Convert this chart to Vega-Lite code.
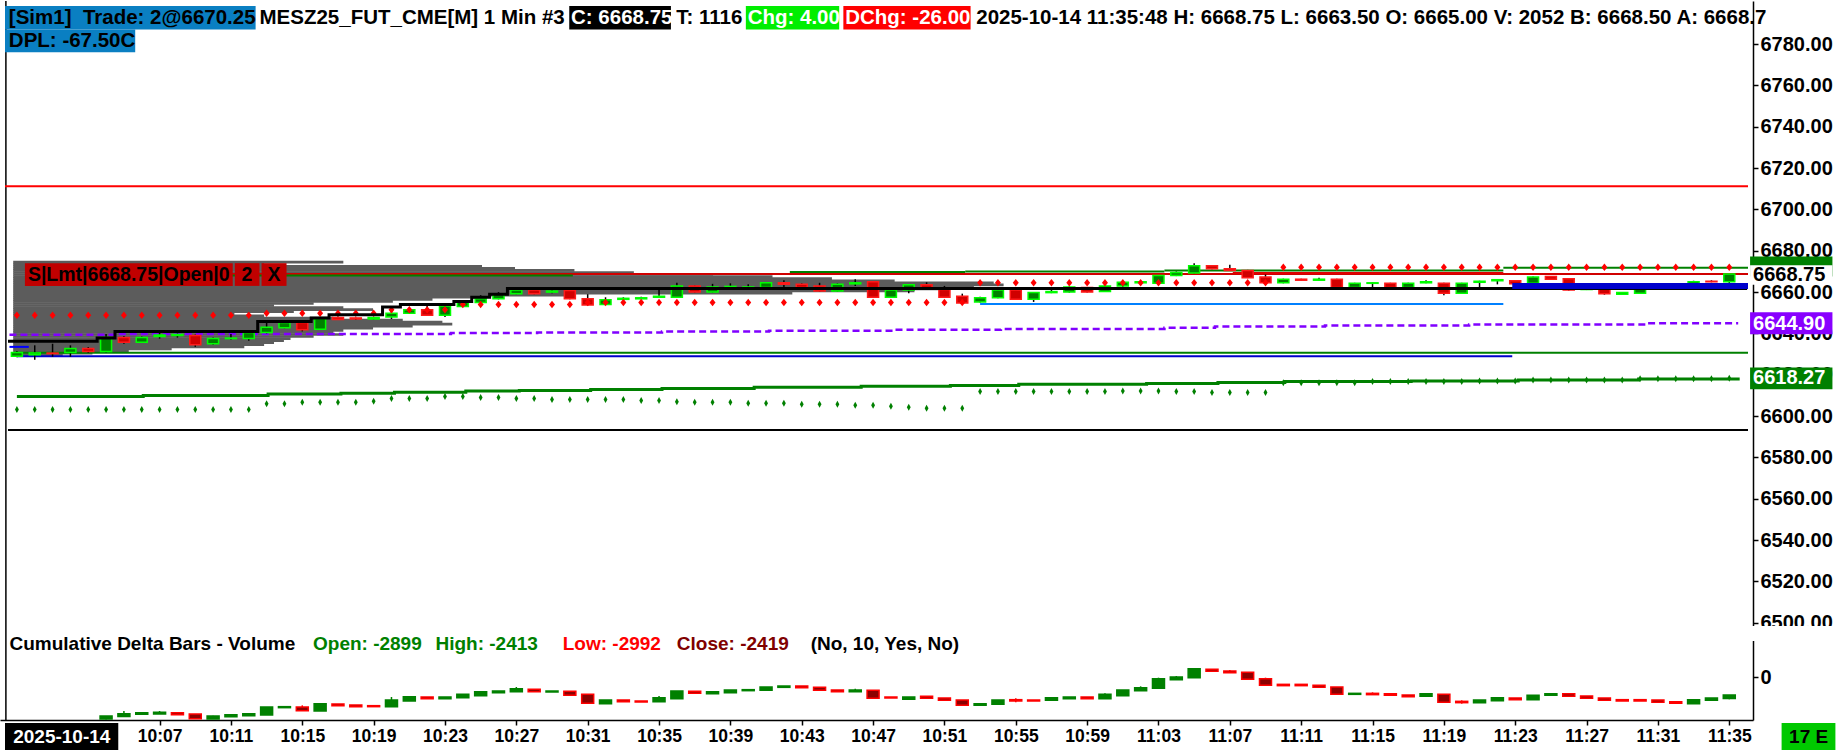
{
"$schema": "https://vega.github.io/schema/vega-lite/v6.json",
"padding": 0,
"spacing": 0,
"bounds": "flush",
"background": "white",
"config": {
  "view": {"stroke": null},
  "axis": {"grid": false, "domainColor": "#000000", "tickColor": "#000000", "labelColor": "#000000"},
  "text": {"font": "Liberation Sans", "fontWeight": "bold"}
},
"datasets": {
"candles": [
{"time":"2025-10-14T09:59:00","o":6629.0,"h":6631.5,"l":6628.5,"c":6630.75,"ub":6648.75,"lb":6603.25},
{"time":"2025-10-14T10:00:00","o":6629.75,"h":6634.25,"l":6627.25,"c":6630.5,"ub":6648.75,"lb":6603.25},
{"time":"2025-10-14T10:01:00","o":6630.5,"h":6635.0,"l":6628.75,"c":6630.25,"ub":6648.75,"lb":6603.25},
{"time":"2025-10-14T10:02:00","o":6630.75,"h":6634.25,"l":6628.75,"c":6632.75,"ub":6648.75,"lb":6603.25},
{"time":"2025-10-14T10:03:00","o":6632.75,"h":6633.5,"l":6630.5,"c":6631.25,"ub":6648.75,"lb":6603.25},
{"time":"2025-10-14T10:04:00","o":6631.25,"h":6639.75,"l":6630.75,"c":6638.0,"ub":6648.75,"lb":6603.25},
{"time":"2025-10-14T10:05:00","o":6638.0,"h":6638.75,"l":6635.0,"c":6635.75,"ub":6648.75,"lb":6603.25},
{"time":"2025-10-14T10:06:00","o":6635.75,"h":6638.5,"l":6635.5,"c":6638.0,"ub":6648.75,"lb":6603.25},
{"time":"2025-10-14T10:07:00","o":6638.5,"h":6641.25,"l":6637.5,"c":6639.25,"ub":6648.75,"lb":6603.25},
{"time":"2025-10-14T10:08:00","o":6639.0,"h":6640.0,"l":6638.0,"c":6639.5,"ub":6648.75,"lb":6603.25},
{"time":"2025-10-14T10:09:00","o":6639.0,"h":6639.5,"l":6633.5,"c":6634.5,"ub":6648.75,"lb":6603.25},
{"time":"2025-10-14T10:10:00","o":6635.0,"h":6638.0,"l":6634.5,"c":6637.5,"ub":6648.75,"lb":6603.25},
{"time":"2025-10-14T10:11:00","o":6637.5,"h":6639.75,"l":6637.0,"c":6637.75,"ub":6648.75,"lb":6603.25},
{"time":"2025-10-14T10:12:00","o":6637.5,"h":6641.0,"l":6636.5,"c":6640.5,"ub":6648.75,"lb":6603.25},
{"time":"2025-10-14T10:13:00","o":6640.5,"h":6645.75,"l":6640.0,"c":6643.0,"ub":6649.75,"lb":6606.0},
{"time":"2025-10-14T10:14:00","o":6642.75,"h":6645.75,"l":6642.5,"c":6645.25,"ub":6649.75,"lb":6606.0},
{"time":"2025-10-14T10:15:00","o":6645.25,"h":6646.0,"l":6641.0,"c":6641.75,"ub":6649.75,"lb":6606.75},
{"time":"2025-10-14T10:16:00","o":6642.0,"h":6648.0,"l":6641.75,"c":6647.25,"ub":6649.75,"lb":6606.75},
{"time":"2025-10-14T10:17:00","o":6647.75,"h":6648.25,"l":6646.5,"c":6646.75,"ub":6649.75,"lb":6606.75},
{"time":"2025-10-14T10:18:00","o":6647.5,"h":6647.75,"l":6646.5,"c":6647.0,"ub":6649.75,"lb":6606.75},
{"time":"2025-10-14T10:19:00","o":6647.0,"h":6648.0,"l":6646.75,"c":6647.75,"ub":6649.75,"lb":6607.25},
{"time":"2025-10-14T10:20:00","o":6648.0,"h":6651.25,"l":6647.0,"c":6649.75,"ub":6651.5,"lb":6608.5},
{"time":"2025-10-14T10:21:00","o":6649.75,"h":6652.0,"l":6649.5,"c":6651.5,"ub":6651.5,"lb":6608.5},
{"time":"2025-10-14T10:22:00","o":6651.5,"h":6653.5,"l":6648.5,"c":6648.75,"ub":6651.5,"lb":6608.5},
{"time":"2025-10-14T10:23:00","o":6648.75,"h":6653.75,"l":6648.0,"c":6653.25,"ub":6651.5,"lb":6609.5},
{"time":"2025-10-14T10:24:00","o":6653.0,"h":6655.75,"l":6652.75,"c":6655.25,"ub":6654.0,"lb":6609.5},
{"time":"2025-10-14T10:25:00","o":6655.0,"h":6658.5,"l":6654.75,"c":6656.75,"ub":6654.0,"lb":6609.0},
{"time":"2025-10-14T10:26:00","o":6656.75,"h":6660.0,"l":6656.5,"c":6659.25,"ub":6654.0,"lb":6609.0},
{"time":"2025-10-14T10:27:00","o":6659.25,"h":6661.25,"l":6659.0,"c":6661.0,"ub":6654.0,"lb":6608.5},
{"time":"2025-10-14T10:28:00","o":6661.0,"h":6661.5,"l":6659.0,"c":6659.25,"ub":6654.0,"lb":6608.5},
{"time":"2025-10-14T10:29:00","o":6660.0,"h":6661.0,"l":6659.5,"c":6660.5,"ub":6654.0,"lb":6608.0},
{"time":"2025-10-14T10:30:00","o":6660.75,"h":6661.0,"l":6656.5,"c":6656.75,"ub":6654.0,"lb":6608.0},
{"time":"2025-10-14T10:31:00","o":6656.75,"h":6659.0,"l":6653.5,"c":6653.75,"ub":6655.0,"lb":6608.0},
{"time":"2025-10-14T10:32:00","o":6654.0,"h":6657.5,"l":6653.75,"c":6656.25,"ub":6655.0,"lb":6608.0},
{"time":"2025-10-14T10:33:00","o":6656.5,"h":6657.5,"l":6656.0,"c":6657.0,"ub":6655.0,"lb":6608.0},
{"time":"2025-10-14T10:34:00","o":6656.75,"h":6657.75,"l":6656.5,"c":6657.25,"ub":6655.0,"lb":6607.5},
{"time":"2025-10-14T10:35:00","o":6657.5,"h":6661.0,"l":6657.25,"c":6658.0,"ub":6655.0,"lb":6607.5},
{"time":"2025-10-14T10:36:00","o":6657.5,"h":6664.5,"l":6657.25,"c":6663.0,"ub":6655.0,"lb":6607.0},
{"time":"2025-10-14T10:37:00","o":6663.0,"h":6663.25,"l":6659.75,"c":6660.0,"ub":6655.0,"lb":6606.75},
{"time":"2025-10-14T10:38:00","o":6660.0,"h":6664.0,"l":6659.75,"c":6662.5,"ub":6655.0,"lb":6606.75},
{"time":"2025-10-14T10:39:00","o":6662.5,"h":6664.25,"l":6662.25,"c":6662.75,"ub":6655.0,"lb":6606.75},
{"time":"2025-10-14T10:40:00","o":6662.0,"h":6663.75,"l":6661.0,"c":6662.5,"ub":6655.0,"lb":6606.25},
{"time":"2025-10-14T10:41:00","o":6662.25,"h":6664.75,"l":6662.0,"c":6664.5,"ub":6655.0,"lb":6606.25},
{"time":"2025-10-14T10:42:00","o":6664.5,"h":6665.75,"l":6662.25,"c":6663.75,"ub":6655.0,"lb":6606.25},
{"time":"2025-10-14T10:43:00","o":6663.75,"h":6664.25,"l":6662.0,"c":6662.25,"ub":6655.0,"lb":6605.75},
{"time":"2025-10-14T10:44:00","o":6663.0,"h":6664.5,"l":6660.25,"c":6660.5,"ub":6655.0,"lb":6605.75},
{"time":"2025-10-14T10:45:00","o":6660.5,"h":6664.25,"l":6660.25,"c":6663.75,"ub":6655.0,"lb":6605.75},
{"time":"2025-10-14T10:46:00","o":6664.0,"h":6666.25,"l":6663.0,"c":6664.5,"ub":6655.0,"lb":6605.25},
{"time":"2025-10-14T10:47:00","o":6665.0,"h":6665.25,"l":6657.25,"c":6657.5,"ub":6655.0,"lb":6605.25},
{"time":"2025-10-14T10:48:00","o":6657.5,"h":6661.25,"l":6657.25,"c":6661.0,"ub":6655.0,"lb":6604.75},
{"time":"2025-10-14T10:49:00","o":6661.0,"h":6663.75,"l":6659.5,"c":6663.5,"ub":6655.0,"lb":6604.25},
{"time":"2025-10-14T10:50:00","o":6663.5,"h":6664.75,"l":6661.75,"c":6662.0,"ub":6655.0,"lb":6603.75},
{"time":"2025-10-14T10:51:00","o":6661.25,"h":6663.0,"l":6657.25,"c":6657.5,"ub":6655.0,"lb":6603.75},
{"time":"2025-10-14T10:52:00","o":6658.0,"h":6659.25,"l":6654.5,"c":6654.75,"ub":6655.0,"lb":6603.75},
{"time":"2025-10-14T10:53:00","o":6655.25,"h":6657.75,"l":6655.0,"c":6657.25,"ub":6664.5,"lb":6611.9},
{"time":"2025-10-14T10:54:00","o":6657.25,"h":6661.25,"l":6657.0,"c":6661.0,"ub":6664.5,"lb":6611.9},
{"time":"2025-10-14T10:55:00","o":6661.0,"h":6661.25,"l":6656.25,"c":6656.5,"ub":6664.5,"lb":6611.9},
{"time":"2025-10-14T10:56:00","o":6656.5,"h":6660.0,"l":6655.25,"c":6659.75,"ub":6664.5,"lb":6611.9},
{"time":"2025-10-14T10:57:00","o":6659.75,"h":6662.0,"l":6659.5,"c":6660.25,"ub":6664.5,"lb":6611.9},
{"time":"2025-10-14T10:58:00","o":6660.0,"h":6662.75,"l":6659.75,"c":6662.5,"ub":6664.5,"lb":6611.9},
{"time":"2025-10-14T10:59:00","o":6662.25,"h":6662.5,"l":6659.75,"c":6660.0,"ub":6664.5,"lb":6611.9},
{"time":"2025-10-14T11:00:00","o":6660.25,"h":6663.25,"l":6660.0,"c":6663.0,"ub":6664.5,"lb":6611.9},
{"time":"2025-10-14T11:01:00","o":6663.0,"h":6665.0,"l":6662.25,"c":6664.75,"ub":6664.5,"lb":6612.2},
{"time":"2025-10-14T11:02:00","o":6664.5,"h":6665.25,"l":6664.25,"c":6665.0,"ub":6664.5,"lb":6612.2},
{"time":"2025-10-14T11:03:00","o":6664.25,"h":6668.25,"l":6664.0,"c":6668.0,"ub":6664.5,"lb":6612.2},
{"time":"2025-10-14T11:04:00","o":6668.0,"h":6670.0,"l":6667.75,"c":6669.5,"ub":6664.5,"lb":6611.9},
{"time":"2025-10-14T11:05:00","o":6669.25,"h":6674.0,"l":6669.0,"c":6672.75,"ub":6664.5,"lb":6611.9},
{"time":"2025-10-14T11:06:00","o":6672.75,"h":6673.0,"l":6671.0,"c":6671.25,"ub":6664.5,"lb":6611.4},
{"time":"2025-10-14T11:07:00","o":6671.25,"h":6673.25,"l":6670.25,"c":6670.5,"ub":6664.5,"lb":6611.4},
{"time":"2025-10-14T11:08:00","o":6670.5,"h":6670.75,"l":6666.75,"c":6667.0,"ub":6664.5,"lb":6611.4},
{"time":"2025-10-14T11:09:00","o":6667.25,"h":6668.5,"l":6663.75,"c":6664.5,"ub":6664.5,"lb":6611.4},
{"time":"2025-10-14T11:10:00","o":6664.5,"h":6666.5,"l":6664.25,"c":6666.25,"ub":6672.0,"lb":6616.2},
{"time":"2025-10-14T11:11:00","o":6666.25,"h":6666.5,"l":6665.5,"c":6665.75,"ub":6672.0,"lb":6616.2},
{"time":"2025-10-14T11:12:00","o":6665.75,"h":6667.0,"l":6665.5,"c":6666.25,"ub":6672.0,"lb":6616.2},
{"time":"2025-10-14T11:13:00","o":6666.25,"h":6666.5,"l":6662.0,"c":6662.25,"ub":6672.0,"lb":6616.2},
{"time":"2025-10-14T11:14:00","o":6662.25,"h":6664.5,"l":6662.0,"c":6664.25,"ub":6672.0,"lb":6616.2},
{"time":"2025-10-14T11:15:00","o":6664.25,"h":6664.75,"l":6662.25,"c":6664.5,"ub":6672.0,"lb":6616.7},
{"time":"2025-10-14T11:16:00","o":6664.25,"h":6664.5,"l":6662.0,"c":6662.25,"ub":6672.0,"lb":6616.7},
{"time":"2025-10-14T11:17:00","o":6662.25,"h":6664.5,"l":6662.0,"c":6664.25,"ub":6672.0,"lb":6616.7},
{"time":"2025-10-14T11:18:00","o":6664.5,"h":6665.75,"l":6664.25,"c":6665.0,"ub":6672.0,"lb":6616.7},
{"time":"2025-10-14T11:19:00","o":6664.25,"h":6664.5,"l":6658.5,"c":6659.5,"ub":6672.0,"lb":6616.7},
{"time":"2025-10-14T11:20:00","o":6659.5,"h":6664.5,"l":6659.25,"c":6664.25,"ub":6672.0,"lb":6616.7},
{"time":"2025-10-14T11:21:00","o":6664.75,"h":6665.5,"l":6662.25,"c":6665.25,"ub":6672.0,"lb":6617.0},
{"time":"2025-10-14T11:22:00","o":6665.5,"h":6666.25,"l":6663.75,"c":6666.0,"ub":6672.0,"lb":6617.0},
{"time":"2025-10-14T11:23:00","o":6665.5,"h":6665.75,"l":6663.75,"c":6664.0,"ub":6672.0,"lb":6617.0},
{"time":"2025-10-14T11:24:00","o":6664.25,"h":6667.5,"l":6664.0,"c":6667.25,"ub":6672.0,"lb":6617.5},
{"time":"2025-10-14T11:25:00","o":6667.5,"h":6667.75,"l":6666.0,"c":6666.25,"ub":6672.0,"lb":6617.5},
{"time":"2025-10-14T11:26:00","o":6666.5,"h":6666.75,"l":6660.75,"c":6661.0,"ub":6672.0,"lb":6617.5},
{"time":"2025-10-14T11:27:00","o":6661.25,"h":6662.0,"l":6661.0,"c":6661.75,"ub":6672.0,"lb":6617.5},
{"time":"2025-10-14T11:28:00","o":6662.25,"h":6662.5,"l":6658.75,"c":6659.25,"ub":6672.0,"lb":6617.5},
{"time":"2025-10-14T11:29:00","o":6659.0,"h":6660.0,"l":6658.75,"c":6659.75,"ub":6672.0,"lb":6617.5},
{"time":"2025-10-14T11:30:00","o":6659.5,"h":6662.5,"l":6659.25,"c":6662.25,"ub":6672.0,"lb":6618.1},
{"time":"2025-10-14T11:31:00","o":6662.5,"h":6664.0,"l":6661.25,"c":6663.0,"ub":6672.0,"lb":6618.1},
{"time":"2025-10-14T11:32:00","o":6662.25,"h":6663.25,"l":6661.25,"c":6662.75,"ub":6672.0,"lb":6618.1},
{"time":"2025-10-14T11:33:00","o":6663.0,"h":6665.5,"l":6662.75,"c":6665.0,"ub":6672.0,"lb":6618.1},
{"time":"2025-10-14T11:34:00","o":6665.25,"h":6665.75,"l":6664.75,"c":6665.0,"ub":6672.0,"lb":6618.1},
{"time":"2025-10-14T11:35:00","o":6665.0,"h":6668.75,"l":6663.5,"c":6668.75,"ub":6672.0,"lb":6618.27}
],
"delta": [
{"time":"2025-10-14T10:04:00","o":-5650,"h":-5242,"l":-5700,"c":-5242},
{"time":"2025-10-14T10:05:00","o":-5300,"h":-4570,"l":-5330,"c":-4928},
{"time":"2025-10-14T10:06:00","o":-5000,"h":-4794,"l":-5062,"c":-4794},
{"time":"2025-10-14T10:07:00","o":-4973,"h":-4570,"l":-4973,"c":-4749},
{"time":"2025-10-14T10:08:00","o":-4794,"h":-4750,"l":-5062,"c":-5062},
{"time":"2025-10-14T10:09:00","o":-4973,"h":-4973,"l":-5600,"c":-5600},
{"time":"2025-10-14T10:10:00","o":-5645,"h":-5200,"l":-5645,"c":-5242},
{"time":"2025-10-14T10:11:00","o":-5331,"h":-5062,"l":-5331,"c":-5062},
{"time":"2025-10-14T10:12:00","o":-5197,"h":-4928,"l":-5197,"c":-4928},
{"time":"2025-10-14T10:13:00","o":-5107,"h":-4032,"l":-5107,"c":-4032},
{"time":"2025-10-14T10:14:00","o":-4122,"h":-3987,"l":-4122,"c":-3987},
{"time":"2025-10-14T10:15:00","o":-4032,"h":-3808,"l":-4525,"c":-4525},
{"time":"2025-10-14T10:16:00","o":-4570,"h":-3584,"l":-4570,"c":-3584},
{"time":"2025-10-14T10:17:00","o":-3629,"h":-3629,"l":-3853,"c":-3853},
{"time":"2025-10-14T10:18:00","o":-3763,"h":-3763,"l":-3987,"c":-3987},
{"time":"2025-10-14T10:19:00","o":-3853,"h":-3853,"l":-3987,"c":-3987},
{"time":"2025-10-14T10:20:00","o":-3987,"h":-2688,"l":-3987,"c":-3091},
{"time":"2025-10-14T10:21:00","o":-3226,"h":-2643,"l":-3226,"c":-2643},
{"time":"2025-10-14T10:22:00","o":-2688,"h":-2688,"l":-2912,"c":-2912},
{"time":"2025-10-14T10:23:00","o":-2912,"h":-2688,"l":-2912,"c":-2688},
{"time":"2025-10-14T10:24:00","o":-2778,"h":-2330,"l":-2778,"c":-2330},
{"time":"2025-10-14T10:25:00","o":-2509,"h":-1971,"l":-2509,"c":-1971},
{"time":"2025-10-14T10:26:00","o":-2106,"h":-1882,"l":-2106,"c":-1882},
{"time":"2025-10-14T10:27:00","o":-1971,"h":-1344,"l":-1971,"c":-1568},
{"time":"2025-10-14T10:28:00","o":-1658,"h":-1658,"l":-1971,"c":-1971},
{"time":"2025-10-14T10:29:00","o":-2016,"h":-1882,"l":-2016,"c":-1882},
{"time":"2025-10-14T10:30:00","o":-1926,"h":-1926,"l":-2464,"c":-2464},
{"time":"2025-10-14T10:31:00","o":-2330,"h":-2330,"l":-3539,"c":-3539},
{"time":"2025-10-14T10:32:00","o":-3584,"h":-3091,"l":-3584,"c":-3091},
{"time":"2025-10-14T10:33:00","o":-3091,"h":-3091,"l":-3315,"c":-3315},
{"time":"2025-10-14T10:34:00","o":-3226,"h":-3226,"l":-3360,"c":-3360},
{"time":"2025-10-14T10:35:00","o":-3315,"h":-2554,"l":-3315,"c":-2778},
{"time":"2025-10-14T10:36:00","o":-2912,"h":-1882,"l":-2912,"c":-1882},
{"time":"2025-10-14T10:37:00","o":-1926,"h":-1926,"l":-2195,"c":-2195},
{"time":"2025-10-14T10:38:00","o":-2240,"h":-1971,"l":-2240,"c":-1971},
{"time":"2025-10-14T10:39:00","o":-2106,"h":-1747,"l":-2106,"c":-1747},
{"time":"2025-10-14T10:40:00","o":-1837,"h":-1702,"l":-1837,"c":-1702},
{"time":"2025-10-14T10:41:00","o":-1792,"h":-1344,"l":-1792,"c":-1344},
{"time":"2025-10-14T10:42:00","o":-1389,"h":-1210,"l":-1389,"c":-1210},
{"time":"2025-10-14T10:43:00","o":-1210,"h":-1210,"l":-1434,"c":-1434},
{"time":"2025-10-14T10:44:00","o":-1389,"h":-1389,"l":-1792,"c":-1792},
{"time":"2025-10-14T10:45:00","o":-1747,"h":-1747,"l":-1971,"c":-1971},
{"time":"2025-10-14T10:46:00","o":-1971,"h":-1568,"l":-1971,"c":-1747},
{"time":"2025-10-14T10:47:00","o":-1792,"h":-1792,"l":-2867,"c":-2867},
{"time":"2025-10-14T10:48:00","o":-2688,"h":-2688,"l":-2822,"c":-2822},
{"time":"2025-10-14T10:49:00","o":-3002,"h":-2688,"l":-3002,"c":-2688},
{"time":"2025-10-14T10:50:00","o":-2598,"h":-2598,"l":-2867,"c":-2867},
{"time":"2025-10-14T10:51:00","o":-2822,"h":-2822,"l":-3136,"c":-3136},
{"time":"2025-10-14T10:52:00","o":-3091,"h":-3091,"l":-3808,"c":-3808},
{"time":"2025-10-14T10:53:00","o":-3808,"h":-3584,"l":-3808,"c":-3584},
{"time":"2025-10-14T10:54:00","o":-3674,"h":-3091,"l":-3674,"c":-3091},
{"time":"2025-10-14T10:55:00","o":-3046,"h":-2867,"l":-3405,"c":-3226},
{"time":"2025-10-14T10:56:00","o":-3091,"h":-3091,"l":-3226,"c":-3226},
{"time":"2025-10-14T10:57:00","o":-3136,"h":-2778,"l":-3136,"c":-2778},
{"time":"2025-10-14T10:58:00","o":-2912,"h":-2688,"l":-2912,"c":-2688},
{"time":"2025-10-14T10:59:00","o":-2688,"h":-2688,"l":-2912,"c":-2912},
{"time":"2025-10-14T11:00:00","o":-2912,"h":-2195,"l":-2912,"c":-2330},
{"time":"2025-10-14T11:01:00","o":-2509,"h":-1747,"l":-2509,"c":-1747},
{"time":"2025-10-14T11:02:00","o":-1837,"h":-1254,"l":-1837,"c":-1434},
{"time":"2025-10-14T11:03:00","o":-1523,"h":-90,"l":-1523,"c":-224},
{"time":"2025-10-14T11:04:00","o":-358,"h":134,"l":-358,"c":0},
{"time":"2025-10-14T11:05:00","o":-90,"h":1120,"l":-90,"c":1120},
{"time":"2025-10-14T11:06:00","o":1030,"h":1030,"l":762,"c":762},
{"time":"2025-10-14T11:07:00","o":806,"h":941,"l":582,"c":582},
{"time":"2025-10-14T11:08:00","o":627,"h":627,"l":-314,"c":-314},
{"time":"2025-10-14T11:09:00","o":-224,"h":-90,"l":-1120,"c":-1120},
{"time":"2025-10-14T11:10:00","o":-986,"h":-986,"l":-1165,"c":-1165},
{"time":"2025-10-14T11:11:00","o":-986,"h":-986,"l":-1165,"c":-1165},
{"time":"2025-10-14T11:12:00","o":-1120,"h":-1120,"l":-1389,"c":-1389},
{"time":"2025-10-14T11:13:00","o":-1344,"h":-1344,"l":-2330,"c":-2330},
{"time":"2025-10-14T11:14:00","o":-2330,"h":-2195,"l":-2330,"c":-2195},
{"time":"2025-10-14T11:15:00","o":-2195,"h":-2061,"l":-2374,"c":-2374},
{"time":"2025-10-14T11:16:00","o":-2240,"h":-2240,"l":-2464,"c":-2464},
{"time":"2025-10-14T11:17:00","o":-2419,"h":-2419,"l":-2643,"c":-2643},
{"time":"2025-10-14T11:18:00","o":-2598,"h":-2240,"l":-2598,"c":-2240},
{"time":"2025-10-14T11:19:00","o":-2330,"h":-2330,"l":-3405,"c":-3405},
{"time":"2025-10-14T11:20:00","o":-3270,"h":-3136,"l":-3584,"c":-3450},
{"time":"2025-10-14T11:21:00","o":-3450,"h":-3091,"l":-3450,"c":-3091},
{"time":"2025-10-14T11:22:00","o":-3181,"h":-2778,"l":-3181,"c":-2778},
{"time":"2025-10-14T11:23:00","o":-2822,"h":-2822,"l":-3046,"c":-3046},
{"time":"2025-10-14T11:24:00","o":-3046,"h":-2464,"l":-3046,"c":-2464},
{"time":"2025-10-14T11:25:00","o":-2464,"h":-2240,"l":-2464,"c":-2240},
{"time":"2025-10-14T11:26:00","o":-2240,"h":-2240,"l":-2598,"c":-2598},
{"time":"2025-10-14T11:27:00","o":-2554,"h":-2554,"l":-2867,"c":-2867},
{"time":"2025-10-14T11:28:00","o":-2822,"h":-2822,"l":-3136,"c":-3136},
{"time":"2025-10-14T11:29:00","o":-3046,"h":-3046,"l":-3226,"c":-3226},
{"time":"2025-10-14T11:30:00","o":-3046,"h":-3046,"l":-3226,"c":-3226},
{"time":"2025-10-14T11:31:00","o":-3091,"h":-3091,"l":-3405,"c":-3405},
{"time":"2025-10-14T11:32:00","o":-3315,"h":-3315,"l":-3539,"c":-3539},
{"time":"2025-10-14T11:33:00","o":-3584,"h":-3046,"l":-3584,"c":-3046},
{"time":"2025-10-14T11:34:00","o":-3136,"h":-2822,"l":-3136,"c":-2822},
{"time":"2025-10-14T11:35:00","o":-2899,"h":-2413,"l":-2992,"c":-2419}
],
"steps": [
{"s":"black","time":"2025-10-14T09:58:30","v":6636.25},
{"s":"black","time":"2025-10-14T10:03:30","v":6637.75},
{"s":"black","time":"2025-10-14T10:04:30","v":6641.0},
{"s":"black","time":"2025-10-14T10:12:30","v":6645.75},
{"s":"black","time":"2025-10-14T10:15:30","v":6647.5},
{"s":"black","time":"2025-10-14T10:16:30","v":6649.0},
{"s":"black","time":"2025-10-14T10:19:30","v":6652.75},
{"s":"black","time":"2025-10-14T10:20:30","v":6654.0},
{"s":"black","time":"2025-10-14T10:23:30","v":6655.5},
{"s":"black","time":"2025-10-14T10:24:30","v":6657.5},
{"s":"black","time":"2025-10-14T10:25:30","v":6659.0},
{"s":"black","time":"2025-10-14T10:26:30","v":6661.75},
{"s":"black","time":"2025-10-14T11:36:00","v":6661.75},
{"s":"purple","time":"2025-10-14T09:58:35","v":6639.4},
{"s":"purple","time":"2025-10-14T10:04:30","v":6639.7},
{"s":"purple","time":"2025-10-14T10:23:20","v":6640.2},
{"s":"purple","time":"2025-10-14T10:28:10","v":6640.5},
{"s":"purple","time":"2025-10-14T10:35:10","v":6641.0},
{"s":"purple","time":"2025-10-14T10:41:10","v":6641.3},
{"s":"purple","time":"2025-10-14T10:48:10","v":6641.8},
{"s":"purple","time":"2025-10-14T10:54:10","v":6642.2},
{"s":"purple","time":"2025-10-14T11:03:20","v":6642.7},
{"s":"purple","time":"2025-10-14T11:06:10","v":6643.3},
{"s":"purple","time":"2025-10-14T11:12:20","v":6643.8},
{"s":"purple","time":"2025-10-14T11:20:25","v":6644.3},
{"s":"purple","time":"2025-10-14T11:30:20","v":6644.9},
{"s":"purple","time":"2025-10-14T11:35:30","v":6644.9},
{"s":"green","time":"2025-10-14T09:59:00","v":6609.5},
{"s":"green","time":"2025-10-14T10:06:05","v":6610.0},
{"s":"green","time":"2025-10-14T10:13:05","v":6610.7},
{"s":"green","time":"2025-10-14T10:17:10","v":6611.1},
{"s":"green","time":"2025-10-14T10:20:10","v":6611.6},
{"s":"green","time":"2025-10-14T10:24:10","v":6612.1},
{"s":"green","time":"2025-10-14T10:27:10","v":6612.4},
{"s":"green","time":"2025-10-14T10:31:10","v":6612.9},
{"s":"green","time":"2025-10-14T10:35:10","v":6613.4},
{"s":"green","time":"2025-10-14T10:40:20","v":6614.0},
{"s":"green","time":"2025-10-14T10:46:20","v":6614.5},
{"s":"green","time":"2025-10-14T10:51:20","v":6614.8},
{"s":"green","time":"2025-10-14T10:55:10","v":6615.4},
{"s":"green","time":"2025-10-14T11:02:20","v":6615.8},
{"s":"green","time":"2025-10-14T11:06:20","v":6616.3},
{"s":"green","time":"2025-10-14T11:10:05","v":6616.7},
{"s":"green","time":"2025-10-14T11:17:10","v":6617.0},
{"s":"green","time":"2025-10-14T11:23:10","v":6617.5},
{"s":"green","time":"2025-10-14T11:29:55","v":6618.0},
{"s":"green","time":"2025-10-14T11:35:35","v":6618.0}
],
"levels": [
{"name":"r1","start":"2025-10-14T09:58:20","end":"2025-10-14T11:36:03","v":6711.25},
{"name":"blk","start":"2025-10-14T09:58:30","end":"2025-10-14T11:36:03","v":6593.25},
{"name":"grn","start":"2025-10-14T09:58:50","end":"2025-10-14T11:36:03","v":6630.6},
{"name":"blu","start":"2025-10-14T09:59:00","end":"2025-10-14T11:22:50","v":6629.0},
{"name":"blu2","start":"2025-10-14T09:58:35","end":"2025-10-14T09:59:40","v":6633.5},
{"name":"ord","start":"2025-10-14T09:59:30","end":"2025-10-14T11:36:03","v":6668.75},
{"name":"redbar","start":"2025-10-14T11:07:10","end":"2025-10-14T11:22:20","v":6669.25},
{"name":"lblu","start":"2025-10-14T10:53:00","end":"2025-10-14T11:22:20","v":6654.25},
{"name":"dgrn","start":"2025-10-14T10:01:50","end":"2025-10-14T10:30:10","v":6668.0},
{"name":"dgrn","start":"2025-10-14T10:42:20","end":"2025-10-14T10:52:10","v":6669.75},
{"name":"dgrn","start":"2025-10-14T10:52:10","end":"2025-10-14T11:03:20","v":6670.0},
{"name":"dgrn","start":"2025-10-14T11:03:20","end":"2025-10-14T11:22:20","v":6670.5},
{"name":"dgrn","start":"2025-10-14T11:22:20","end":"2025-10-14T11:36:03","v":6671.75},
{"name":"nblu","start":"2025-10-14T11:22:50","end":"2025-10-14T11:36:03","v":6663.0}
],
"profile": [
{"p":6674.5,"vol":100},{"p":6673.5,"vol":76},{"p":6672.5,"vol":142},{"p":6671.5,"vol":152},
{"p":6670.5,"vol":170},{"p":6669.5,"vol":188},{"p":6668.5,"vol":212},{"p":6667.5,"vol":230},
{"p":6666.5,"vol":248},{"p":6665.5,"vol":267},{"p":6664.5,"vol":297},{"p":6663.5,"vol":300},
{"p":6662.5,"vol":291},{"p":6661.5,"vol":282},{"p":6660.5,"vol":273},{"p":6659.5,"vol":236},
{"p":6658.5,"vol":170},{"p":6657.5,"vol":142},{"p":6656.5,"vol":127},{"p":6655.5,"vol":115},
{"p":6654.5,"vol":91},{"p":6653.5,"vol":79},{"p":6652.5,"vol":100},{"p":6651.5,"vol":109},
{"p":6650.5,"vol":85},{"p":6649.5,"vol":67},{"p":6648.5,"vol":76},{"p":6647.5,"vol":97},
{"p":6646.5,"vol":118},{"p":6645.5,"vol":130},{"p":6644.5,"vol":133},{"p":6643.5,"vol":121},
{"p":6642.5,"vol":109},{"p":6641.5,"vol":100},{"p":6640.5,"vol":97},{"p":6639.5,"vol":100},
{"p":6638.5,"vol":91},{"p":6637.5,"vol":84},{"p":6636.5,"vol":82},{"p":6635.5,"vol":79},
{"p":6634.5,"vol":76},{"p":6633.5,"vol":70},{"p":6632.5,"vol":48},{"p":6631.5,"vol":35},
{"p":6630.5,"vol":24},{"p":6629.5,"vol":15}
]
},
"vconcat": [
{
 "width": 1753, "height": 632,
 "data": {"values": [{}]},
 "layer": [
  {
   "data": {"name": "profile"},
   "mark": {"type": "bar", "orient": "horizontal", "height": 2.6, "color": "#5c5c5c"},
   "encoding": {
    "y": {"field": "p", "type": "quantitative", "scale": {"domain": [6497.48, 6798.43], "nice": false, "zero": false},
          "axis": {"orient": "right", "title": null, "values": [6500,6520,6540,6560,6580,6600,6620,6640,6660,6680,6700,6720,6740,6760,6780], "format": ".2f",
                   "labelFont": "Liberation Sans", "labelFontWeight": "bold", "labelFontSize": 20, "tickSize": 5, "labelPadding": 2,
                   "domainWidth": 1.5, "tickWidth": 1.5, "labelFlush": false, "labelOverlap": false}},
    "x": {"field": "vol", "type": "quantitative", "scale": {"domain": [-4, 527], "nice": false, "zero": false}, "axis": null}
   }
  },
  {
   "layer": [
    {"mark": {"type": "rule", "color": "#000000", "strokeWidth": 1.5},
     "encoding": {"x": {"datum": {"year":2025,"month":10,"date":14,"hours":9,"minutes":58,"seconds":23}, "type": "temporal", "scale": {"domain": [{"year":2025,"month":10,"date":14,"hours":9,"minutes":58,"seconds":20},{"year":2025,"month":10,"date":14,"hours":11,"minutes":36,"seconds":3}]}, "axis": null}}},
    {"data": {"name": "steps"}, "transform": [{"filter": "datum.s == 'purple'"}],
     "mark": {"type": "line", "interpolate": "step-after", "color": "#8000ff", "strokeWidth": 2.5, "strokeDash": [7, 4]},
     "encoding": {"x": {"field": "time", "type": "temporal", "scale": {"domain": [{"year":2025,"month":10,"date":14,"hours":9,"minutes":58,"seconds":20},{"year":2025,"month":10,"date":14,"hours":11,"minutes":36,"seconds":3}]}, "axis": null},
                  "y": {"field": "v", "type": "quantitative", "title": null, "scale": {"domain": [6497.48, 6798.43], "nice": false, "zero": false}}}},
    {"data": {"name": "steps"}, "transform": [{"filter": "datum.s == 'green'"}],
     "mark": {"type": "line", "interpolate": "step-after", "color": "#008000", "strokeWidth": 3},
     "encoding": {"x": {"field": "time", "type": "temporal", "scale": {"domain": [{"year":2025,"month":10,"date":14,"hours":9,"minutes":58,"seconds":20},{"year":2025,"month":10,"date":14,"hours":11,"minutes":36,"seconds":3}]}, "axis": null},
                  "y": {"field": "v", "type": "quantitative", "title": null, "scale": {"domain": [6497.48, 6798.43], "nice": false, "zero": false}}}},
    {"data": {"name": "levels"}, "transform": [{"filter": "datum.name != 'nblu'"}],
     "mark": {"type": "rule"},
     "encoding": {"x": {"field": "start", "type": "temporal", "scale": {"domain": [{"year":2025,"month":10,"date":14,"hours":9,"minutes":58,"seconds":20},{"year":2025,"month":10,"date":14,"hours":11,"minutes":36,"seconds":3}]}, "axis": null},
                  "x2": {"field": "end"},
                  "y": {"field": "v", "type": "quantitative", "title": null, "scale": {"domain": [6497.48, 6798.43], "nice": false, "zero": false}},
                  "color": {"field": "name", "type": "nominal", "legend": null,
                            "scale": {"domain": ["r1","ord","redbar","blk","grn","blu","blu2","lblu","dgrn","nblu"], "range": ["#ff0000","#d00000","#e00000","#000000","#008000","#0000cc","#0000ff","#0080ff","#008000","#0000cc"]}},
                  "strokeWidth": {"field": "name", "type": "nominal", "legend": null,
                            "scale": {"domain": ["r1","ord","redbar","blk","grn","blu","blu2","lblu","dgrn","nblu"], "range": [2,2,6,2.5,3,3,4,4,2,6]}}}},
    {"data": {"name": "candles"},
     "mark": {"type": "rule", "color": "#000000", "strokeWidth": 1.5},
     "encoding": {"x": {"field": "time", "type": "temporal", "scale": {"domain": [{"year":2025,"month":10,"date":14,"hours":9,"minutes":58,"seconds":20},{"year":2025,"month":10,"date":14,"hours":11,"minutes":36,"seconds":3}]}, "axis": null},
                  "y": {"field": "l", "type": "quantitative", "title": null, "scale": {"domain": [6497.48, 6798.43], "nice": false, "zero": false}},
                  "y2": {"field": "h"}}},
    {"data": {"name": "candles"},
     "mark": {"type": "bar", "width": 11, "strokeWidth": 1.5},
     "encoding": {"x": {"field": "time", "type": "temporal", "scale": {"domain": [{"year":2025,"month":10,"date":14,"hours":9,"minutes":58,"seconds":20},{"year":2025,"month":10,"date":14,"hours":11,"minutes":36,"seconds":3}]}, "axis": null},
                  "y": {"field": "o", "type": "quantitative", "title": null, "scale": {"domain": [6497.48, 6798.43], "nice": false, "zero": false}},
                  "y2": {"field": "c"},
                  "fill": {"condition": {"test": "datum.c >= datum.o", "value": "#008000"}, "value": "#d00000"},
                  "stroke": {"condition": {"test": "datum.c >= datum.o", "value": "#00ff00"}, "value": "#ff1a1a"}}},
    {"data": {"name": "candles"},
     "mark": {"type": "point", "shape": "M0,-1L0.8,0L0,1L-0.8,0Z", "filled": true, "size": 56, "color": "#ff0000", "opacity": 1},
     "encoding": {"x": {"field": "time", "type": "temporal", "scale": {"domain": [{"year":2025,"month":10,"date":14,"hours":9,"minutes":58,"seconds":20},{"year":2025,"month":10,"date":14,"hours":11,"minutes":36,"seconds":3}]}, "axis": null},
                  "y": {"field": "ub", "type": "quantitative", "title": null, "scale": {"domain": [6497.48, 6798.43], "nice": false, "zero": false}}}},
    {"data": {"name": "candles"},
     "mark": {"type": "point", "shape": "M0,-1L0.55,0L0,1L-0.55,0Z", "filled": true, "size": 49, "color": "#008000", "opacity": 1},
     "encoding": {"x": {"field": "time", "type": "temporal", "scale": {"domain": [{"year":2025,"month":10,"date":14,"hours":9,"minutes":58,"seconds":20},{"year":2025,"month":10,"date":14,"hours":11,"minutes":36,"seconds":3}]}, "axis": null},
                  "y": {"field": "lb", "type": "quantitative", "title": null, "scale": {"domain": [6497.48, 6798.43], "nice": false, "zero": false}}}},
    {"data": {"name": "steps"}, "transform": [{"filter": "datum.s == 'black'"}],
     "mark": {"type": "line", "interpolate": "step-after", "color": "#000000", "strokeWidth": 3},
     "encoding": {"x": {"field": "time", "type": "temporal", "scale": {"domain": [{"year":2025,"month":10,"date":14,"hours":9,"minutes":58,"seconds":20},{"year":2025,"month":10,"date":14,"hours":11,"minutes":36,"seconds":3}]}, "axis": null},
                  "y": {"field": "v", "type": "quantitative", "title": null, "scale": {"domain": [6497.48, 6798.43], "nice": false, "zero": false}}}},
    {"data": {"name": "levels"}, "transform": [{"filter": "datum.name == 'nblu'"}],
     "mark": {"type": "rule", "color": "#0000cc", "strokeWidth": 6},
     "encoding": {"x": {"field": "start", "type": "temporal", "scale": {"domain": [{"year":2025,"month":10,"date":14,"hours":9,"minutes":58,"seconds":20},{"year":2025,"month":10,"date":14,"hours":11,"minutes":36,"seconds":3}]}, "axis": null},
                  "x2": {"field": "end"},
                  "y": {"field": "v", "type": "quantitative", "title": null, "scale": {"domain": [6497.48, 6798.43], "nice": false, "zero": false}}}},

    {"mark": {"type": "rect", "color": "#0a7fc2"},
     "encoding": {"x": {"datum": {"year":2025,"month":10,"date":14,"hours":9,"minutes":58,"seconds":20}, "type": "temporal", "axis": null},
                  "x2": {"datum": {"year":2025,"month":10,"date":14,"hours":10,"minutes":12,"seconds":23}},
                  "y": {"datum": 6787.0, "type": "quantitative", "title": null}, "y2": {"datum": 6798.43}}},
    {"mark": {"type": "rect", "color": "#0a7fc2"},
     "encoding": {"x": {"datum": {"year":2025,"month":10,"date":14,"hours":9,"minutes":58,"seconds":20}, "type": "temporal", "axis": null},
                  "x2": {"datum": {"year":2025,"month":10,"date":14,"hours":10,"minutes":5,"seconds":38}},
                  "y": {"datum": 6776.0, "type": "quantitative", "title": null}, "y2": {"datum": 6787.0}}},
    {"mark": {"type": "rect", "color": "#000000"},
     "encoding": {"x": {"datum": {"year":2025,"month":10,"date":14,"hours":10,"minutes":29,"seconds":58}, "type": "temporal", "axis": null},
                  "x2": {"datum": {"year":2025,"month":10,"date":14,"hours":10,"minutes":35,"seconds":40}},
                  "y": {"datum": 6787.0, "type": "quantitative", "title": null}, "y2": {"datum": 6798.43}}},
    {"mark": {"type": "rect", "color": "#00ee00"},
     "encoding": {"x": {"datum": {"year":2025,"month":10,"date":14,"hours":10,"minutes":39,"seconds":52}, "type": "temporal", "axis": null},
                  "x2": {"datum": {"year":2025,"month":10,"date":14,"hours":10,"minutes":45,"seconds":6}},
                  "y": {"datum": 6787.0, "type": "quantitative", "title": null}, "y2": {"datum": 6798.43}}},
    {"mark": {"type": "rect", "color": "#ff0000"},
     "encoding": {"x": {"datum": {"year":2025,"month":10,"date":14,"hours":10,"minutes":45,"seconds":20}, "type": "temporal", "axis": null},
                  "x2": {"datum": {"year":2025,"month":10,"date":14,"hours":10,"minutes":52,"seconds":28}},
                  "y": {"datum": 6787.0, "type": "quantitative", "title": null}, "y2": {"datum": 6798.43}}},
    {"mark": {"type": "text", "align": "left", "baseline": "middle", "fontSize": 20.5, "color": "#000000"},
     "encoding": {"x": {"datum": {"year":2025,"month":10,"date":14,"hours":9,"minutes":58,"seconds":33}, "type": "temporal", "axis": null},
                  "y": {"datum": 6792.6, "type": "quantitative", "title": null}, "text": {"value": "[Sim1]\u00a0\u00a0Trade: 2@6670.25"}}},
    {"mark": {"type": "text", "align": "left", "baseline": "middle", "fontSize": 20.5, "color": "#000000"},
     "encoding": {"x": {"datum": {"year":2025,"month":10,"date":14,"hours":10,"minutes":12,"seconds":36}, "type": "temporal", "axis": null},
                  "y": {"datum": 6792.6, "type": "quantitative", "title": null}, "text": {"value": "MESZ25_FUT_CME[M] 1 Min #3"}}},
    {"mark": {"type": "text", "align": "left", "baseline": "middle", "fontSize": 20.5, "color": "#ffffff"},
     "encoding": {"x": {"datum": {"year":2025,"month":10,"date":14,"hours":10,"minutes":30,"seconds":4}, "type": "temporal", "axis": null},
                  "y": {"datum": 6792.6, "type": "quantitative", "title": null}, "text": {"value": "C: 6668.75"}}},
    {"mark": {"type": "text", "align": "left", "baseline": "middle", "fontSize": 20.5, "color": "#000000"},
     "encoding": {"x": {"datum": {"year":2025,"month":10,"date":14,"hours":10,"minutes":35,"seconds":58}, "type": "temporal", "axis": null},
                  "y": {"datum": 6792.6, "type": "quantitative", "title": null}, "text": {"value": "T: 1116"}}},
    {"mark": {"type": "text", "align": "left", "baseline": "middle", "fontSize": 20.5, "color": "#ffffff"},
     "encoding": {"x": {"datum": {"year":2025,"month":10,"date":14,"hours":10,"minutes":39,"seconds":58}, "type": "temporal", "axis": null},
                  "y": {"datum": 6792.6, "type": "quantitative", "title": null}, "text": {"value": "Chg: 4.00"}}},
    {"mark": {"type": "text", "align": "left", "baseline": "middle", "fontSize": 20.5, "color": "#ffffff"},
     "encoding": {"x": {"datum": {"year":2025,"month":10,"date":14,"hours":10,"minutes":45,"seconds":26}, "type": "temporal", "axis": null},
                  "y": {"datum": 6792.6, "type": "quantitative", "title": null}, "text": {"value": "DChg: -26.00"}}},
    {"mark": {"type": "text", "align": "left", "baseline": "middle", "fontSize": 20.5, "color": "#000000"},
     "encoding": {"x": {"datum": {"year":2025,"month":10,"date":14,"hours":10,"minutes":52,"seconds":47}, "type": "temporal", "axis": null},
                  "y": {"datum": 6792.6, "type": "quantitative", "title": null}, "text": {"value": "2025-10-14 11:35:48 H: 6668.75 L: 6663.50 O: 6665.00 V: 2052 B: 6668.50 A: 6668.7"}}},
    {"mark": {"type": "text", "align": "left", "baseline": "middle", "fontSize": 20.5, "color": "#000000"},
     "encoding": {"x": {"datum": {"year":2025,"month":10,"date":14,"hours":9,"minutes":58,"seconds":33}, "type": "temporal", "axis": null},
                  "y": {"datum": 6781.3, "type": "quantitative", "title": null}, "text": {"value": "DPL: -67.50C"}}},

    {"mark": {"type": "rect", "color": "#c00000"},
     "encoding": {"x": {"datum": {"year":2025,"month":10,"date":14,"hours":9,"minutes":59,"seconds":27}, "type": "temporal", "axis": null},
                  "x2": {"datum": {"year":2025,"month":10,"date":14,"hours":10,"minutes":11,"seconds":6}},
                  "y": {"datum": 6663.0, "type": "quantitative", "title": null}, "y2": {"datum": 6674.0}}},
    {"mark": {"type": "rect", "color": "#c00000"},
     "encoding": {"x": {"datum": {"year":2025,"month":10,"date":14,"hours":10,"minutes":11,"seconds":13}, "type": "temporal", "axis": null},
                  "x2": {"datum": {"year":2025,"month":10,"date":14,"hours":10,"minutes":12,"seconds":36}},
                  "y": {"datum": 6663.0, "type": "quantitative", "title": null}, "y2": {"datum": 6674.0}}},
    {"mark": {"type": "rect", "color": "#c00000"},
     "encoding": {"x": {"datum": {"year":2025,"month":10,"date":14,"hours":10,"minutes":12,"seconds":43}, "type": "temporal", "axis": null},
                  "x2": {"datum": {"year":2025,"month":10,"date":14,"hours":10,"minutes":14,"seconds":7}},
                  "y": {"datum": 6663.0, "type": "quantitative", "title": null}, "y2": {"datum": 6674.0}}},
    {"mark": {"type": "text", "align": "left", "baseline": "middle", "fontSize": 19.5, "color": "#000000"},
     "encoding": {"x": {"datum": {"year":2025,"month":10,"date":14,"hours":9,"minutes":59,"seconds":37}, "type": "temporal", "axis": null},
                  "y": {"datum": 6668.4, "type": "quantitative", "title": null}, "text": {"value": "S|Lmt|6668.75|Open|0"}}},
    {"mark": {"type": "text", "align": "center", "baseline": "middle", "fontSize": 19.5, "color": "#000000"},
     "encoding": {"x": {"datum": {"year":2025,"month":10,"date":14,"hours":10,"minutes":11,"seconds":54}, "type": "temporal", "axis": null},
                  "y": {"datum": 6668.4, "type": "quantitative", "title": null}, "text": {"value": "2"}}},
    {"mark": {"type": "text", "align": "center", "baseline": "middle", "fontSize": 19.5, "color": "#000000"},
     "encoding": {"x": {"datum": {"year":2025,"month":10,"date":14,"hours":10,"minutes":13,"seconds":25}, "type": "temporal", "axis": null},
                  "y": {"datum": 6668.4, "type": "quantitative", "title": null}, "text": {"value": "X"}}},

    {"mark": {"type": "rect", "color": "#008000"},
     "encoding": {"x": {"datum": {"year":2025,"month":10,"date":14,"hours":11,"minutes":36,"seconds":10}, "type": "temporal", "axis": null},
                  "x2": {"datum": {"year":2025,"month":10,"date":14,"hours":11,"minutes":40,"seconds":47}},
                  "y": {"datum": 6667.5, "type": "quantitative", "title": null}, "y2": {"datum": 6677.25}}},
    {"mark": {"type": "rect", "color": "#ffffff"},
     "encoding": {"x": {"datum": {"year":2025,"month":10,"date":14,"hours":11,"minutes":36,"seconds":10}, "type": "temporal", "axis": null},
                  "x2": {"datum": {"year":2025,"month":10,"date":14,"hours":11,"minutes":40,"seconds":47}},
                  "y": {"datum": 6663.5, "type": "quantitative", "title": null}, "y2": {"datum": 6673.0}}},
    {"mark": {"type": "rect", "color": "#8800ff"},
     "encoding": {"x": {"datum": {"year":2025,"month":10,"date":14,"hours":11,"minutes":36,"seconds":10}, "type": "temporal", "axis": null},
                  "x2": {"datum": {"year":2025,"month":10,"date":14,"hours":11,"minutes":40,"seconds":47}},
                  "y": {"datum": 6639.6, "type": "quantitative", "title": null}, "y2": {"datum": 6650.2}}},
    {"mark": {"type": "rect", "color": "#008000"},
     "encoding": {"x": {"datum": {"year":2025,"month":10,"date":14,"hours":11,"minutes":36,"seconds":10}, "type": "temporal", "axis": null},
                  "x2": {"datum": {"year":2025,"month":10,"date":14,"hours":11,"minutes":40,"seconds":47}},
                  "y": {"datum": 6613.0, "type": "quantitative", "title": null}, "y2": {"datum": 6623.5}}},
    {"mark": {"type": "text", "align": "left", "baseline": "middle", "fontSize": 20, "color": "#000000"},
     "encoding": {"x": {"datum": {"year":2025,"month":10,"date":14,"hours":11,"minutes":36,"seconds":20}, "type": "temporal", "axis": null},
                  "y": {"datum": 6668.3, "type": "quantitative", "title": null}, "text": {"value": "6668.75"}}},
    {"mark": {"type": "text", "align": "left", "baseline": "middle", "fontSize": 20, "color": "#ffffff"},
     "encoding": {"x": {"datum": {"year":2025,"month":10,"date":14,"hours":11,"minutes":36,"seconds":20}, "type": "temporal", "axis": null},
                  "y": {"datum": 6644.8, "type": "quantitative", "title": null}, "text": {"value": "6644.90"}}},
    {"mark": {"type": "text", "align": "left", "baseline": "middle", "fontSize": 20, "color": "#ffffff"},
     "encoding": {"x": {"datum": {"year":2025,"month":10,"date":14,"hours":11,"minutes":36,"seconds":20}, "type": "temporal", "axis": null},
                  "y": {"datum": 6618.2, "type": "quantitative", "title": null}, "text": {"value": "6618.27"}}}
   ]
  }
 ],
 "resolve": {"scale": {"x": "independent"}}
},
{
 "width": 1753, "height": 87,
 "data": {"values": [{}]},
 "layer": [
  {"data": {"name": "delta"},
   "mark": {"type": "rule", "strokeWidth": 1.5},
   "encoding": {"x": {"field": "time", "type": "temporal", "scale": {"domain": [{"year":2025,"month":10,"date":14,"hours":9,"minutes":58,"seconds":20},{"year":2025,"month":10,"date":14,"hours":11,"minutes":36,"seconds":3}]},
                      "axis": {"orient": "bottom", "title": null, "format": "%H:%M", "labelFont": "Liberation Sans", "labelFontWeight": "bold", "labelFontSize": 17.5,
                               "tickSize": 5, "labelPadding": 2, "domainWidth": 1.5, "tickWidth": 1.5, "labelFlush": false, "labelOverlap": false,
                               "values": [
{"year":2025,"month":10,"date":14,"hours":10,"minutes":7},{"year":2025,"month":10,"date":14,"hours":10,"minutes":11},
{"year":2025,"month":10,"date":14,"hours":10,"minutes":15},{"year":2025,"month":10,"date":14,"hours":10,"minutes":19},
{"year":2025,"month":10,"date":14,"hours":10,"minutes":23},{"year":2025,"month":10,"date":14,"hours":10,"minutes":27},
{"year":2025,"month":10,"date":14,"hours":10,"minutes":31},{"year":2025,"month":10,"date":14,"hours":10,"minutes":35},
{"year":2025,"month":10,"date":14,"hours":10,"minutes":39},{"year":2025,"month":10,"date":14,"hours":10,"minutes":43},
{"year":2025,"month":10,"date":14,"hours":10,"minutes":47},{"year":2025,"month":10,"date":14,"hours":10,"minutes":51},
{"year":2025,"month":10,"date":14,"hours":10,"minutes":55},{"year":2025,"month":10,"date":14,"hours":10,"minutes":59},
{"year":2025,"month":10,"date":14,"hours":11,"minutes":3},{"year":2025,"month":10,"date":14,"hours":11,"minutes":7},
{"year":2025,"month":10,"date":14,"hours":11,"minutes":11},{"year":2025,"month":10,"date":14,"hours":11,"minutes":15},
{"year":2025,"month":10,"date":14,"hours":11,"minutes":19},{"year":2025,"month":10,"date":14,"hours":11,"minutes":23},
{"year":2025,"month":10,"date":14,"hours":11,"minutes":27},{"year":2025,"month":10,"date":14,"hours":11,"minutes":31},
{"year":2025,"month":10,"date":14,"hours":11,"minutes":35}]}},
                "y": {"field": "l", "type": "quantitative", "scale": {"domain": [-5779, 5914], "nice": false, "zero": false},
                      "axis": {"orient": "right", "title": null, "values": [0], "format": "d", "labelFont": "Liberation Sans", "labelFontWeight": "bold", "labelFontSize": 20,
                               "tickSize": 5, "labelPadding": 2, "domainWidth": 1.5, "tickWidth": 1.5}},
                "y2": {"field": "h"},
                "color": {"condition": {"test": "datum.c >= datum.o", "value": "#008000"}, "value": "#ff0000"}}},
  {"data": {"name": "delta"},
   "mark": {"type": "bar", "width": 12, "strokeWidth": 1.5},
   "encoding": {"x": {"field": "time", "type": "temporal", "title": null, "scale": {"domain": [{"year":2025,"month":10,"date":14,"hours":9,"minutes":58,"seconds":20},{"year":2025,"month":10,"date":14,"hours":11,"minutes":36,"seconds":3}]}},
                "y": {"field": "o", "type": "quantitative", "title": null, "scale": {"domain": [-5779, 5914], "nice": false, "zero": false}},
                "y2": {"field": "c"},
                "fill": {"condition": {"test": "datum.c >= datum.o", "value": "#008000"}, "value": "#8b0000"},
                "stroke": {"condition": {"test": "datum.c >= datum.o", "value": "#008000"}, "value": "#ff0000"}}},
  {"mark": {"type": "rule", "color": "#000000", "strokeWidth": 1.5},
   "encoding": {"x": {"datum": {"year":2025,"month":10,"date":14,"hours":9,"minutes":58,"seconds":23}, "type": "temporal", "title": null}}},
  {"mark": {"type": "text", "align": "left", "baseline": "middle", "fontSize": 19, "color": "#000000"},
   "encoding": {"x": {"datum": {"year":2025,"month":10,"date":14,"hours":9,"minutes":58,"seconds":35}, "type": "temporal", "title": null},
                "y": {"datum": 4435, "type": "quantitative", "title": null}, "text": {"value": "Cumulative Delta Bars - Volume"}}},
  {"mark": {"type": "text", "align": "left", "baseline": "middle", "fontSize": 19, "color": "#008000"},
   "encoding": {"x": {"datum": {"year":2025,"month":10,"date":14,"hours":10,"minutes":15,"seconds":36}, "type": "temporal", "title": null},
                "y": {"datum": 4435, "type": "quantitative", "title": null}, "text": {"value": "Open: -2899"}}},
  {"mark": {"type": "text", "align": "left", "baseline": "middle", "fontSize": 19, "color": "#008000"},
   "encoding": {"x": {"datum": {"year":2025,"month":10,"date":14,"hours":10,"minutes":22,"seconds":28}, "type": "temporal", "title": null},
                "y": {"datum": 4435, "type": "quantitative", "title": null}, "text": {"value": "High: -2413"}}},
  {"mark": {"type": "text", "align": "left", "baseline": "middle", "fontSize": 19, "color": "#ff0000"},
   "encoding": {"x": {"datum": {"year":2025,"month":10,"date":14,"hours":10,"minutes":29,"seconds":36}, "type": "temporal", "title": null},
                "y": {"datum": 4435, "type": "quantitative", "title": null}, "text": {"value": "Low: -2992"}}},
  {"mark": {"type": "text", "align": "left", "baseline": "middle", "fontSize": 19, "color": "#800000"},
   "encoding": {"x": {"datum": {"year":2025,"month":10,"date":14,"hours":10,"minutes":36,"seconds":0}, "type": "temporal", "title": null},
                "y": {"datum": 4435, "type": "quantitative", "title": null}, "text": {"value": "Close: -2419"}}},
  {"mark": {"type": "text", "align": "left", "baseline": "middle", "fontSize": 19, "color": "#000000"},
   "encoding": {"x": {"datum": {"year":2025,"month":10,"date":14,"hours":10,"minutes":43,"seconds":30}, "type": "temporal", "title": null},
                "y": {"datum": 4435, "type": "quantitative", "title": null}, "text": {"value": "(No, 10, Yes, No)"}}},
  {"mark": {"type": "rect", "color": "#000000"},
   "encoding": {"x": {"datum": {"year":2025,"month":10,"date":14,"hours":9,"minutes":58,"seconds":20}, "type": "temporal", "title": null},
                "x2": {"datum": {"year":2025,"month":10,"date":14,"hours":10,"minutes":4,"seconds":41}},
                "y": {"datum": -9946, "type": "quantitative", "title": null}, "y2": {"datum": -6182}}},
  {"mark": {"type": "text", "align": "center", "baseline": "middle", "fontSize": 19, "color": "#ffffff"},
   "encoding": {"x": {"datum": {"year":2025,"month":10,"date":14,"hours":10,"minutes":1,"seconds":31}, "type": "temporal", "title": null},
                "y": {"datum": -8064, "type": "quantitative", "title": null}, "text": {"value": "2025-10-14"}}},
  {"mark": {"type": "rect", "color": "#00c800"},
   "encoding": {"x": {"datum": {"year":2025,"month":10,"date":14,"hours":11,"minutes":37,"seconds":56}, "type": "temporal", "title": null},
                "x2": {"datum": {"year":2025,"month":10,"date":14,"hours":11,"minutes":40,"seconds":57}},
                "y": {"datum": -9946, "type": "quantitative", "title": null}, "y2": {"datum": -6182}}},
  {"mark": {"type": "text", "align": "center", "baseline": "middle", "fontSize": 19, "color": "#000000"},
   "encoding": {"x": {"datum": {"year":2025,"month":10,"date":14,"hours":11,"minutes":39,"seconds":27}, "type": "temporal", "title": null},
                "y": {"datum": -8064, "type": "quantitative", "title": null}, "text": {"value": "17 E"}}},
  {"mark": {"type": "rect", "color": "#ffffff"},
   "encoding": {"x": {"datum": {"year":2025,"month":10,"date":14,"hours":11,"minutes":36,"seconds":8}, "type": "temporal", "title": null},
                "x2": {"datum": {"year":2025,"month":10,"date":14,"hours":11,"minutes":41,"seconds":0}},
                "y": {"datum": 4838, "type": "quantitative", "title": null}, "y2": {"datum": 6850}}}
 ]
}
]
}
